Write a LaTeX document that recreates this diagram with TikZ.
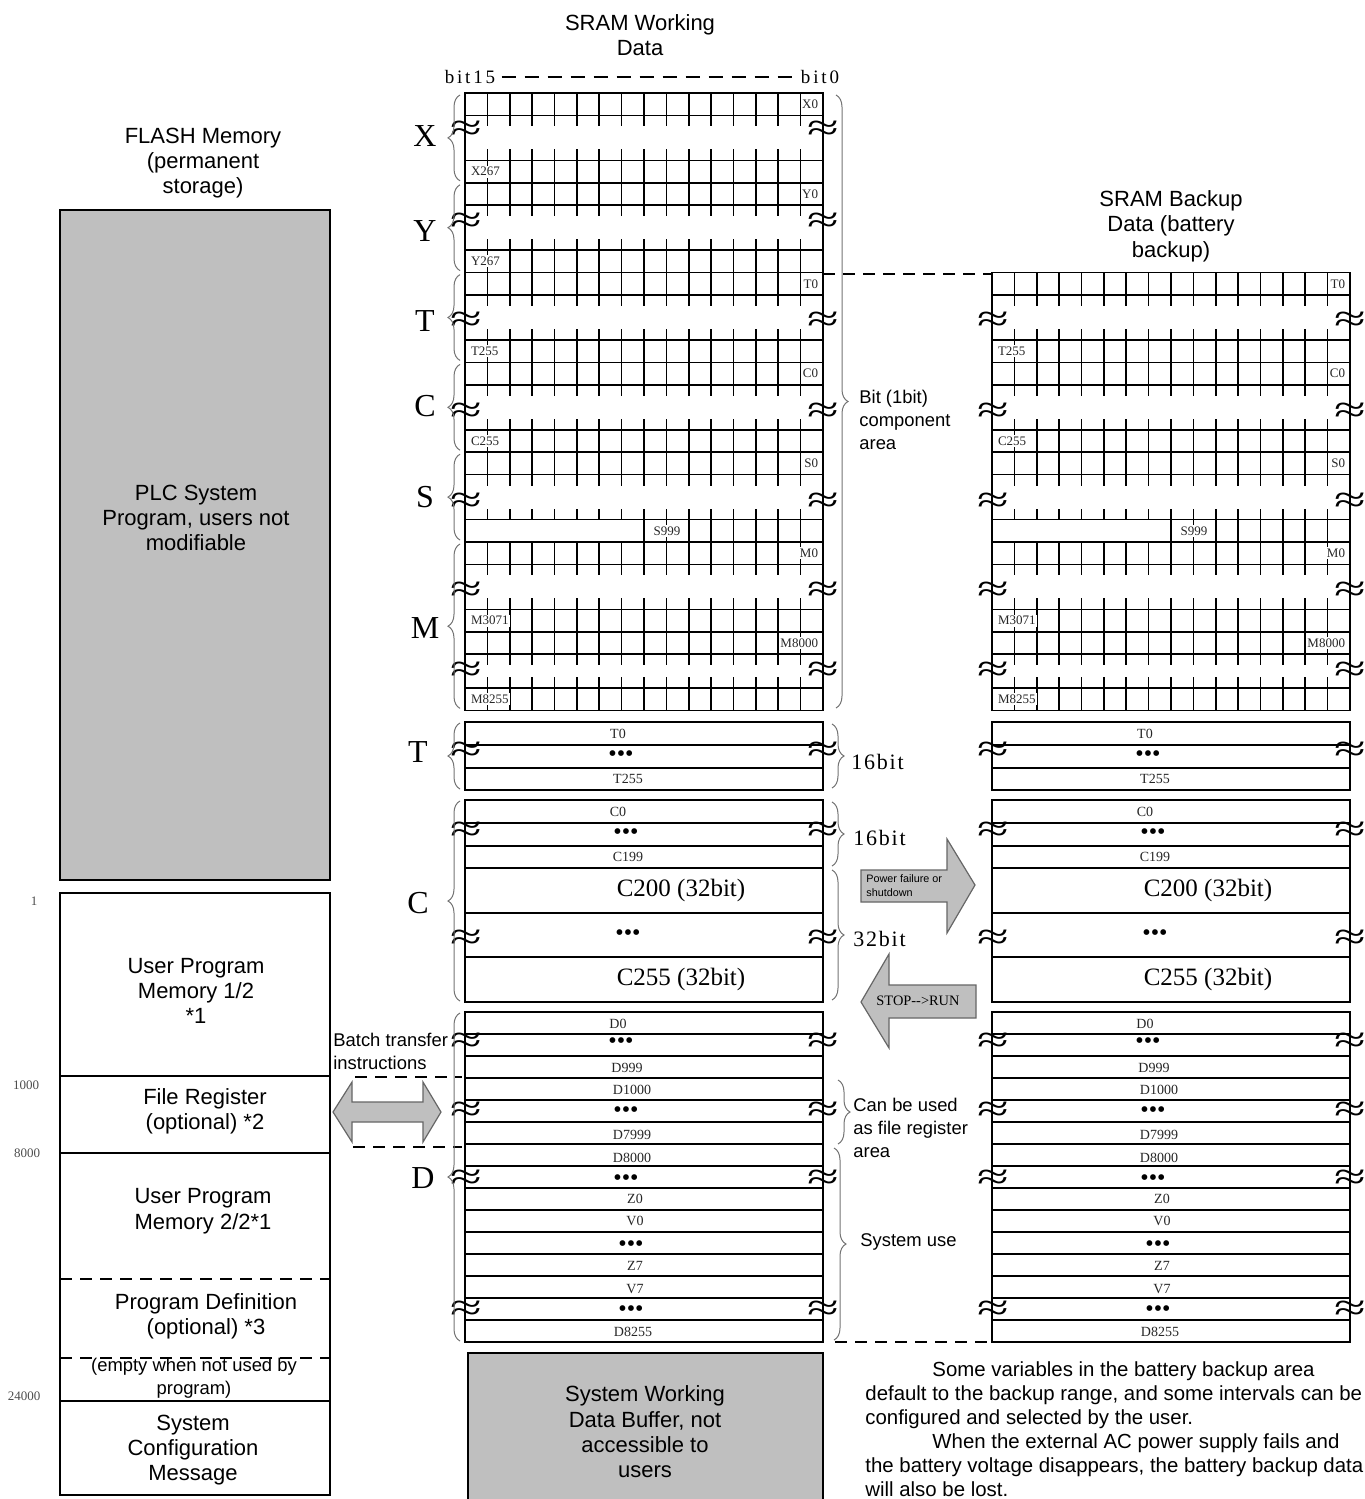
\documentclass[tikz,border=0pt]{standalone}
\usepackage{fontspec}
\usepackage{graphicx}
\setmainfont{Liberation Serif}
\setsansfont{Liberation Sans}
\usetikzlibrary{decorations.pathreplacing,positioning}

\def\rh{22.45}
\def\cw{22.375}
\newcommand{\wavy}{\scalebox{1.6}[1.05]{≈}}

% one row of 16 bit cells (#1 = first inner line, #2 = left x, #3 = row index)
\newcommand{\bitrow}[3][1]{%
  \draw[cellline] (#2,93+#3*\rh) rectangle (#2+358,93+#3*\rh+\rh);
  \foreach \k in {#1,...,15} \draw[cellline] (#2+\k*\cw,93+#3*\rh) -- ++(0,\rh);
}
% short ticks below / above a row
\newcommand{\ticksdown}[2]{%
  \foreach \k in {1,...,15} \draw[cellline] (#1+\k*\cw,93+#2*\rh) -- ++(0,11);
}
\newcommand{\ticksup}[2]{%
  \foreach \k in {1,...,15} \draw[cellline] (#1+\k*\cw,93+#2*\rh) -- ++(0,-11);
}

\begin{document}
\begin{tikzpicture}[x=0.5pt,y=-0.5pt,
    cellline/.style={line width=0.8pt},
    boxline/.style={line width=0.6pt},
    graybox/.style={boxline, fill=black!25},
    blockarrow/.style={fill=black!25, draw=black!60, line width=0.6pt},
    dashline/.style={line width=0.6pt, dash pattern=on 6pt off 4pt},
    sidebrace/.style={decorate, decoration={brace, amplitude=6pt}, draw=black!55, line width=0.5pt},
    bitlabel/.style={font=\fontsize{6.5}{7}\selectfont, text=black!85, fill=white, inner sep=0.8pt},
    wordlabel/.style={font=\fontsize{7}{8}\selectfont, text=black!85, inner sep=0pt},
    dotlabel/.style={font=\fontsize{12}{12}\selectfont, inner sep=0pt},
    widelabel/.style={font=\fontsize{12.5}{13}\selectfont, inner sep=0pt},
    gapmark/.style={font=\fontsize{18}{18}\selectfont, inner sep=0pt},
    bigletter/.style={font=\fontsize{16}{16}\selectfont, inner sep=0pt},
    bitwidth/.style={font=\fontsize{11}{11}\selectfont\addfontfeature{LetterSpace=8}, anchor=west, inner sep=0pt},
    heading/.style={font=\sffamily\fontsize{11}{12.7}\selectfont, align=center, inner sep=0pt},
    note/.style={font=\sffamily\fontsize{9.2}{11.5}\selectfont, align=left, anchor=west, inner sep=0pt},
    address/.style={font=\fontsize{6.5}{7}\selectfont, text=black!70, inner sep=0pt}
  ]

  \useasboundingbox (0,0) rectangle (1365,1499);

  % Titles
  \node[heading] (flashtitle) at (203,163) {FLASH Memory\\(permanent\\storage)};
  \node[heading] (worktitle) at (640,35) {SRAM Working\\Data};
  \node[heading] (backtitle) at (1171,226) {SRAM Backup\\Data (battery\\backup)};

  % FLASH memory
  \draw[graybox] (60,210) rectangle (330,880);
  \node[heading] (plc) at (196,518) {PLC System\\Program, users not\\modifiable};
  \draw[boxline] (60,893) rectangle (330,1495);
  \draw[boxline] (60,1076) -- (330,1076);
  \draw[boxline] (60,1153) -- (330,1153);
  \draw[dashline] (60,1279) -- (330,1279);
  \draw[dashline] (60,1358) -- (330,1358);
  \draw[boxline] (60,1401) -- (330,1401);
  \node[heading] (user1) at (196,991) {User Program\\Memory 1/2\\*1};
  \node[heading] (fileregister) at (205,1111) {File Register\\(optional) *2};
  \node[heading] (user2) at (203,1211) {User Program\\Memory 2/2*1};
  \node[heading] (progdef) at (206,1316) {Program Definition\\(optional) *3};
  \node[heading, font=\sffamily\fontsize{9.2}{11.5}\selectfont] (empty) at (194,1378) {(empty when not used by\\program)};
  \node[heading] (sysconf) at (193,1450) {System\\Configuration\\Message};

  % Addresses
  \node[address] (addr1) at (34,901) {1};
  \node[address] (addr1000) at (26,1085) {1000};
  \node[address] (addr8000) at (27,1153) {8000};
  \node[address] (addr24000) at (24,1396) {24000};

  % Batch transfer
  \node[note] (batch) at (333,1051) {Batch transfer\\instructions};
  \draw[blockarrow] (333,1112) -- (352,1082) -- (352,1102) -- (423,1102) -- (423,1082)
    -- (441,1112) -- (423,1142) -- (423,1122) -- (352,1122) -- (352,1142) -- cycle;
  \draw[dashline] (355,1077) -- (462,1077);
  \draw[dashline] (353,1147) -- (462,1147);

  % bit15 ... bit0
  \node[font=\fontsize{9.5}{10}\selectfont\addfontfeature{LetterSpace=15}, inner sep=0pt] (bit15) at (470,77) {bit15};
  \node[font=\fontsize{9.5}{10}\selectfont\addfontfeature{LetterSpace=15}, inner sep=0pt] (bit0) at (820,77) {bit0};
  \draw[dashline, dash pattern=on 7pt off 4.5pt, shorten <=3pt, shorten >=3pt] (bit15) -- (bit0);

  % Bit component area (X, Y only in working data)
  \foreach \u in {0,3,4,7} \bitrow{465}{\u};
  \foreach \u in {1,5} \ticksdown{465}{\u};
  \foreach \u in {3,7} \ticksup{465}{\u};
  \foreach \y in {131,223} {
    \node[gapmark] (gapl-\y) at (466,\y) {\wavy};
    \node[gapmark] (gapr-\y) at (823,\y) {\wavy};
  }
  \foreach \u/\t in {0/X0,4/Y0} \node[bitlabel, anchor=east] (\t-w) at (820,93+\u*\rh+\rh/2) {\t};
  \foreach \u/\t in {3/X267,7/Y267} \node[bitlabel, anchor=west] (\t-w) at (469,93+\u*\rh+\rh/2) {\t};
  \draw[cellline] (465,93) -- (465,710);
  \draw[cellline] (823,93) -- (823,710);

  % T, C, S, M in both tables
  \foreach \tx/\sd in {465/w,992/b} {
    \foreach \u in {8,11,12,15,16,20,23,24,26.5} \bitrow{\tx}{\u};
    \bitrow[8]{\tx}{19}
    \foreach \u in {9,13,17,21,25} \ticksdown{\tx}{\u};
    \foreach \u in {11,15,19,23,26.5} \ticksup{\tx}{\u};
    \foreach \y in {322,413,503,592,672} {
      \node[gapmark] (gapl-\y-\sd) at (\tx+1,\y) {\wavy};
      \node[gapmark] (gapr-\y-\sd) at (\tx+358,\y) {\wavy};
    }
    \foreach \u/\t in {8/T0,12/C0,16/S0,20/M0,24/M8000}
      \node[bitlabel, anchor=east] (\t-\sd) at (\tx+355,93+\u*\rh+\rh/2) {\t};
    \foreach \u/\t in {11/T255,15/C255,23/M3071,26.5/M8255}
      \node[bitlabel, anchor=west] (\t-\sd) at (\tx+4,93+\u*\rh+\rh/2) {\t};
    \node[bitlabel] (S999-\sd) at (\tx+202,93+19*\rh+\rh/2) {S999};
    \draw[cellline] (\tx,93+8*\rh) -- (\tx,710);
    \draw[cellline] (\tx+358,93+8*\rh) -- (\tx+358,710);

    % Word component area
    \draw[cellline] (\tx,722) rectangle (\tx+358,790);
    \foreach \y in {745,768} \draw[cellline] (\tx,\y) -- ++(358,0);
    \draw[cellline] (\tx,800) rectangle (\tx+358,1002);
    \foreach \y in {823,846,868,913,957} \draw[cellline] (\tx,\y) -- ++(358,0);
    \draw[cellline] (\tx,1012) rectangle (\tx+358,1342);
    \foreach \k in {1,...,14} \draw[cellline] (\tx,1012+\k*22) -- ++(358,0);
    \foreach \dx/\y/\t in {153/734/T0,163/779/T255,153/812/C0,163/857/C199,
        153/1024/D0,162/1068/D999,167/1090/D1000,167/1135/D7999,167/1158/D8000,
        170/1199/Z0,170/1221/V0,170/1266/Z7,170/1289/V7,168/1332/D8255}
      \node[wordlabel] (\t-\sd) at (\tx+\dx,\y) {\t};
    \foreach \dx/\y in {156/756,161/834,163/935,156/1043,161/1112,161/1180,166/1246,166/1311}
      \node[dotlabel] (dots-\y-\sd) at (\tx+\dx,\y) {\textbullet\textbullet\textbullet};
    \node[widelabel] (C200-\sd) at (\tx+216,890) {C200 (32bit)};
    \node[widelabel] (C255w-\sd) at (\tx+216,979) {C255 (32bit)};
    \foreach \y in {752,832,940,1043,1112,1180,1311} {
      \node[gapmark] (wgapl-\y-\sd) at (\tx+1,\y) {\wavy};
      \node[gapmark] (wgapr-\y-\sd) at (\tx+358,\y) {\wavy};
    }
  }

  % Left braces and device letters
  \foreach \a/\b/\lab/\ly in {0/4/X/136,4/8/Y/231,8/12/T/321,12/16/C/406,16/20/S/497,20/27.5/M/628}
  {
    \draw[sidebrace] (460,93+\b*\rh-2) -- (460,93+\a*\rh+2);
    \node[bigletter] (dev-\lab-\a) at (425,\ly) {\lab};
  }
  \draw[sidebrace] (460,789) -- (460,723);
  \node[bigletter] (devT) at (418,752) {T};
  \draw[sidebrace] (460,1001) -- (460,801);
  \node[bigletter] (devC) at (418,903) {C};
  \draw[sidebrace] (460,1341) -- (460,1013);
  \node[bigletter] (devD) at (423,1178) {D};

  % Right braces and notes
  \draw[sidebrace] (836,95) -- (836,708);
  \node[note] (bitarea) at (859,420) {Bit (1bit)\\component\\area};
  \draw[sidebrace] (832,724) -- (832,788);
  \node[bitwidth] (w16a) at (851,762) {16bit};
  \draw[sidebrace] (832,802) -- (832,866);
  \node[bitwidth] (w16b) at (853,838) {16bit};
  \draw[sidebrace] (832,870) -- (832,1000);
  \node[bitwidth] (w32) at (853,939) {32bit};
  \draw[sidebrace] (838,1080) -- (838,1144);
  \node[note] (filearea) at (853,1128) {Can be used\\as file register\\area};
  \draw[sidebrace] (834,1148) -- (834,1340);
  \node[note] (sysuse) at (860,1242) {System use};

  % Backup range
  \coordinate (worktop) at (823,274);
  \coordinate (backtop) at (992,274);
  \draw[dashline] (worktop) -- (backtop);
  \coordinate (workbot) at (835,1342);
  \coordinate (backbot) at (992,1342);
  \draw[dashline] (workbot) -- (backbot);

  % Power failure / STOP->RUN
  \draw[blockarrow] (861,870) -- (947,870) -- (947,839) -- (975,885) -- (947,933)
    -- (947,902) -- (861,902) -- cycle;
  \node[font=\sffamily\fontsize{5.4}{7}\selectfont, align=left, anchor=west, inner sep=0pt] (power) at (866,886) {Power failure or\\shutdown};
  \draw[blockarrow] (976,985) -- (889,985) -- (889,954) -- (861,1002) -- (889,1048)
    -- (889,1018) -- (976,1018) -- cycle;
  \node[font=\fontsize{7.2}{8}\selectfont, inner sep=0pt] (stoprun) at (918,1001) {STOP-{}->RUN};

  % System buffer
  \draw[graybox] (468,1353) rectangle (823,1503);
  \node[heading] (buffer) at (645,1432) {System Working\\Data Buffer, not\\accessible to\\users};

  % Remark
  \node[note, font=\sffamily\fontsize{10.2}{12}\selectfont] (remark) at (865,1429)
    {\hspace*{33.5pt}Some variables in the battery backup area\\
     default to the backup range, and some intervals can be\\
     configured and selected by the user.\\
     \hspace*{33.5pt}When the external AC power supply fails and\\
     the battery voltage disappears, the battery backup data\\
     will also be lost.};
\end{tikzpicture}
\end{document}
